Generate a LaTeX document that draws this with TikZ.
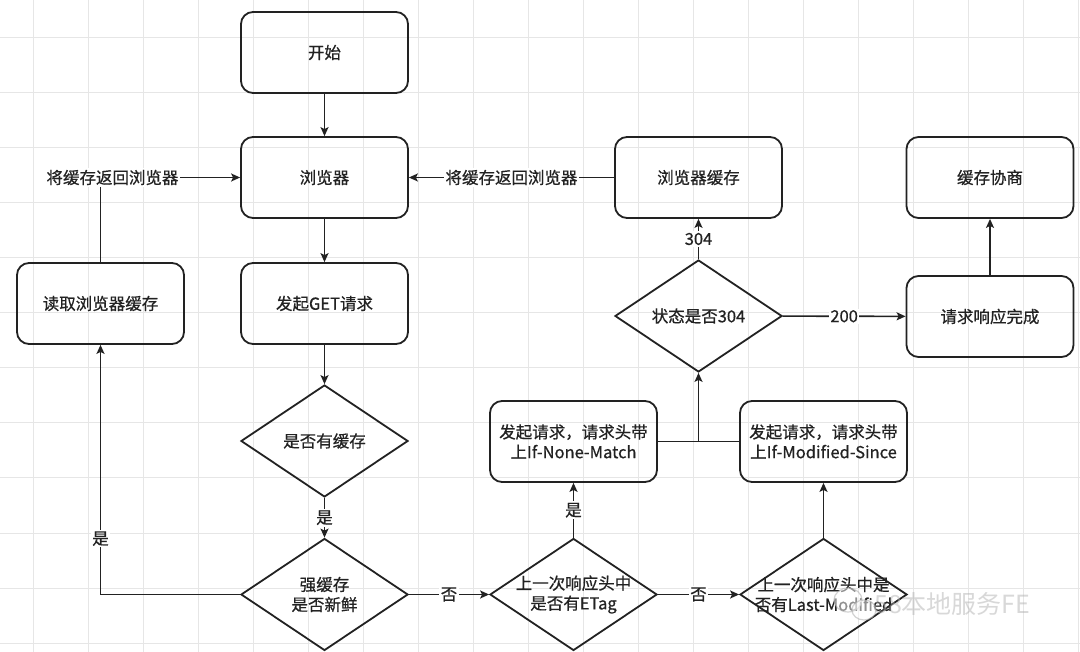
\documentclass[tikz,border=0pt]{standalone}
\usepackage{fontspec}
\setmainfont{Noto Sans CJK SC}
\newfontfamily\cjkfont[FakeBold=0.6]{Noto Sans CJK SC}
\newfontfamily\wmfont{Noto Sans CJK SC}
\usetikzlibrary{shapes.geometric,arrows.meta}
\definecolor{ink}{HTML}{222222}
\definecolor{gridc}{HTML}{E6E6E6}
\tikzset{
  box/.style={draw=ink, line width=1.8pt, rounded corners=12pt, minimum width=167pt, minimum height=81pt, inner sep=2pt, align=center, text=ink, font=\cjkfont\fontsize{16.5}{20}\selectfont},
  dec/.style={draw=ink, line width=1.8pt, diamond, aspect=1.5, minimum width=167pt, minimum height=112pt, inner sep=0pt},
  dtext/.style={inner sep=0pt, align=center, text=ink, font=\cjkfont\fontsize{16.5}{20}\selectfont},
  conn/.style={draw=ink, line width=1.6pt, -{Stealth[length=9pt,width=8pt,inset=2pt]}},
  plain/.style={draw=ink, line width=1.6pt},
  lbl/.style={fill=white, inner sep=1.5pt, text=ink, font=\cjkfont\fontsize{16.5}{20}\selectfont},
}
\begin{document}
\begin{tikzpicture}[x=1pt,y=-1pt]
\useasboundingbox (0,0) rectangle (1080,652);
\fill[white] (0,0) rectangle (1080,652);
% grid
\foreach \gx in {33,88,...,1080} \draw[gridc, line width=1pt] (\gx,0) -- (\gx,652);
\foreach \gy in {38,93,...,652} \draw[gridc, line width=1pt] (0,\gy) -- (1080,\gy);

% nodes
\node[box] (start) at (324.5,52.5) {开始};
\node[box] (browser) at (324.5,177.5) {浏览器};
\node[box] (get) at (324.5,303.5) {发起GET请求};
\node[box] (read) at (100.5,303.5) {读取浏览器缓存};
\node[dec] (has) at (324.5,441) {};
\node[dtext] (hast) at (has) {是否有缓存};
\node[dec] (fresh) at (324.5,594.5) {};
\node[dtext] (fresht) at (fresh) {强缓存\\是否新鲜};
\node[dec] (etag) at (573.5,594.5) {};
\node[dtext] (etagt) at (etag) {上一次响应头中\\是否有ETag};
\node[dec] (lm) at (823.5,594.5) {};
\node[dtext] (lmt) at (lm) {上一次响应头中是\\否有Last-Modified};
\node[box] (inm) at (573.5,441.5) {发起请求，请求头带\\上If-None-Match};
\node[box] (ims) at (823.5,441.5) {发起请求，请求头带\\上If-Modified-Since};
\node[dec] (status) at (698.5,316) {};
\node[dtext] (statust) at (status) {状态是否304};
\node[box] (bcache) at (698.5,177.5) {浏览器缓存};
\node[box] (nego) at (990,177.5) {缓存协商};
\node[box] (done) at (990,316.5) {请求响应完成};
\coordinate (junc) at (698.5,441.5);

% connectors
\draw[conn] (start) -- (browser);
\draw[conn] (browser) -- (get);
\draw[conn] (get) -- (has);
\draw[conn] (has) -- node[lbl] {是} (fresh);
\draw[conn] (fresh.west) -| node[lbl, pos=0.612] {是} (read.south);
\draw[conn] (read.north) |- node[lbl, pos=0.5, xshift=12pt] {将缓存返回浏览器} (browser.west);
\draw[conn] (fresh) -- node[lbl] {否} (etag);
\draw[conn] (etag) -- node[lbl] {是} (inm);
\draw[conn] (etag) -- node[lbl] {否} (lm);
\draw[conn] (lm) -- (ims);
\draw[plain] (inm.east) -- (ims.west);
\draw[conn] (junc) -- (status.south);
\draw[conn] (status) -- node[lbl] {304} (bcache);
\draw[conn] (status) -- node[lbl] {200} (done);
\draw[conn] (done) -- (nego);
\draw[conn] (bcache) -- node[lbl] {将缓存返回浏览器} (browser);

% watermark
\begin{scope}[opacity=0.5]
\draw[gray!70, line width=1.2pt, fill=white] (848,600) ellipse (14pt and 12pt);
\draw[gray!70, line width=1.2pt, fill=white] (864,610) ellipse (12pt and 10pt);
\node[text=gray!60, font=\wmfont\fontsize{25}{30}\selectfont, anchor=west, inner sep=0pt] (wm) at (874,604) {58本地服务FE};
\end{scope}
\end{tikzpicture}
\end{document}
